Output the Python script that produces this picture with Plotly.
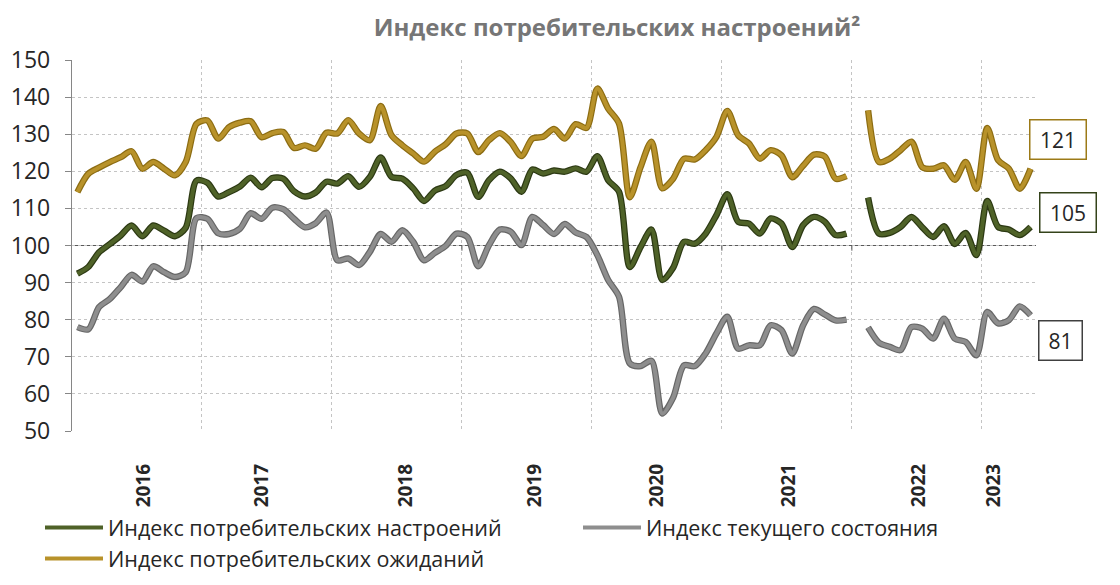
import plotly.graph_objects as go

# ---------------- data (monthly observations, None = missing month) ----------------
ics = [92.4, 94.2, 98.2, 100.4, 102.7, 105.4, 102.5, 105.4, 104.0, 102.5, 104.8, 117.5,
       116.9, 113.2, 114.4, 115.9, 118.3, 115.7, 118.2, 118.0, 114.6, 113.2, 114.3, 117.2,
       116.7, 118.7, 115.8, 118.5, 123.7, 118.5, 118.0, 115.4, 112.0, 114.8, 116.0, 119.0,
       119.6, 113.1, 117.6, 119.9, 118.1, 114.5, 120.5, 119.4, 120.2, 119.9, 120.8, 119.9,
       124.1, 117.6, 114.5, 94.2, 99.6, 104.3, 90.7, 94.0, 101.0, 100.5, 103.2, 108.2,
       113.8, 106.4, 105.9, 103.2, 107.3, 105.9, 99.6, 105.5, 107.7, 106.4, 102.8, 103.2,
       None, 112.9, 103.2, 103.4, 105.0, 107.7, 104.9, 102.3, 105.2, 100.4, 103.4, 97.4,
       112.0, 105.0, 104.3, 102.8, 105.0]

current = [78.0, 77.4, 83.4, 85.6, 88.8, 92.1, 90.3, 94.4, 92.8, 91.5, 92.8, 107.4,
           107.2, 103.3, 103.1, 104.5, 108.7, 107.2, 110.2, 109.8, 107.2, 104.9, 106.0, 108.9,
           96.0, 96.5, 94.7, 98.3, 103.1, 101.0, 104.1, 101.0, 96.0, 98.0, 99.9, 103.2,
           102.3, 94.4, 100.1, 104.3, 103.7, 100.1, 107.7, 105.5, 103.1, 105.8, 103.5, 102.3,
           97.4, 90.7, 86.2, 68.2, 67.5, 68.9, 54.7, 59.0, 67.7, 67.5, 70.9, 76.3,
           80.8, 72.2, 73.1, 73.1, 78.5, 77.2, 70.9, 78.5, 82.9, 81.4, 79.8, 80.0,
           None, 77.9, 73.8, 72.7, 71.8, 78.0, 77.6, 74.9, 80.3, 74.9, 74.0, 70.4,
           82.1, 79.0, 79.9, 83.6, 81.2]

expect = [114.4, 119.3, 121.0, 122.5, 123.8, 125.4, 120.7, 122.5, 120.7, 118.9, 122.5, 132.8,
          133.7, 128.8, 131.9, 133.1, 133.5, 129.2, 130.3, 130.6, 126.3, 127.0, 126.1, 130.4,
          130.2, 133.8, 130.2, 128.4, 137.6, 129.7, 127.0, 124.8, 122.6, 125.3, 127.3, 130.2,
          130.2, 125.2, 128.4, 130.3, 127.9, 124.1, 128.8, 129.3, 131.4, 128.8, 132.7, 131.7,
          142.3, 136.9, 132.9, 113.0, 121.2, 128.0, 115.4, 118.0, 123.4, 123.2, 125.7, 129.3,
          136.3, 129.7, 127.5, 123.4, 125.7, 124.3, 118.4, 121.5, 124.5, 124.0, 118.0, 118.7,
          None, 136.4, 122.5, 123.4, 125.7, 128.0, 121.1, 120.7, 121.6, 117.7, 122.5, 115.3,
          131.7, 123.0, 120.7, 115.3, 120.7]

years = ["2016", "2017", "2018", "2019", "2020", "2021", "2022", "2023"]
year_label_pos = [6.1, 17.0, 30.3, 42.2, 53.5, 65.7, 77.7, 84.6]

names = ["Индекс потребительских настроений",
         "Индекс текущего состояния",
         "Индекс потребительских ожиданий"]

# ---------------- styling ----------------
FONT = "Open Sans"
OFF = 8                      # default page margin of the html body
W, H = 1120 - OFF, 585 - OFF
ML, MR, MT, MB = 64, 84, 52, 154
PW = W - ML - MR

series = [
    # name, values, colour, edge colour, legend id
    (names[0], ics, "#4f6228", "#2c3913", "legend"),
    (names[1], current, "#8e8e8e", "#676767", "legend2"),
    (names[2], expect, "#b8922a", "#8c6c12", "legend"),
]

x = list(range(len(ics)))
fig = go.Figure()

for name, vals, col, edge, lg in series:
    fig.add_trace(go.Scatter(x=x, y=vals, mode="lines", showlegend=False,
                             hoverinfo="skip", connectgaps=False,
                             line=dict(color=edge, width=6.4, shape="spline", smoothing=0.8)))
    fig.add_trace(go.Scatter(x=x, y=vals, mode="lines", name=name, legend=lg,
                             connectgaps=False,
                             line=dict(color=col, width=4.0, shape="spline", smoothing=0.8)))

n = len(ics)
shapes = [dict(type="line", xref="paper", yref="y", x0=0, x1=1, y0=100, y1=100,
               line=dict(color="#595959", width=1.2), layer="between")]
for k in range(1, (n // 12) + 1):
    xv = -0.5 + 12 * k
    if xv < n - 0.5:
        shapes.append(dict(type="line", xref="x", yref="y", x0=xv, x1=xv, y0=100, y1=98.6,
                           line=dict(color="#595959", width=1), layer="between"))


def win_x_to_paper(px):
    return (px - OFF - ML) / PW


# end-value boxes (centre window-pixel x, centre value y)
boxes = [
    (expect[-1], 1058, 128.7, "#9c7a17"),
    (ics[-1], 1068, 109.0, "#34431a"),
    (current[-1], 1060, 74.3, "#404040"),
]
annotations = []
for v, cx, cy, bc in boxes:
    txt = f"{round(v)}"
    annotations.append(dict(text=txt, xref="paper", yref="y", x=win_x_to_paper(cx), y=cy,
                            showarrow=False, font=dict(family=FONT, size=21, color="#262626"),
                            bordercolor=bc, borderwidth=1.5, borderpad=1,
                            width=13 * len(txt) + 14, height=36, bgcolor="white",
                            xanchor="center", yanchor="middle"))

leg_common = dict(orientation="v", xref="container", yref="container",
                  xanchor="left", yanchor="top", itemwidth=58, tracegroupgap=0,
                  font=dict(family=FONT, size=21.5, color="#262626"),
                  bgcolor="rgba(0,0,0,0)")

fig.update_layout(
    width=W, height=H,
    margin=dict(l=ML, r=MR, t=MT, b=MB, autoexpand=False),
    paper_bgcolor="white", plot_bgcolor="white",
    font=dict(family=FONT, color="#262626"),
    title=dict(text="<b>Индекс потребительских настроений²</b>",
               x=(617 - OFF) / W, xanchor="center", xref="container",
               y=1 - (28 - OFF) / H, yanchor="middle", yref="container",
               font=dict(family=FONT, size=24, color="#767676")),
    xaxis=dict(range=[-0.5, n - 0.5], tickmode="array", tickvals=year_label_pos,
               ticktext=years, tickangle=-90, showgrid=False, zeroline=False,
               showline=False, ticks="", ticklabelstandoff=28, automargin=False,
               tickfont=dict(family=FONT, size=19, color="#262626", weight="bold"),
               minor=dict(tick0=-0.5, dtick=12, showgrid=True, gridcolor="#c4c4c4",
                          griddash="dot", gridwidth=1, ticks="")),
    yaxis=dict(range=[50, 150], dtick=10, tick0=50, showgrid=True, gridcolor="#c4c4c4",
               griddash="dot", gridwidth=1, zeroline=False, showline=True, automargin=False,
               linecolor="#868686", linewidth=1.3, ticks="outside", ticklen=6,
               ticklabelstandoff=10,
               tickcolor="#868686", tickfont=dict(family=FONT, size=23, color="#262626")),
    legend=dict(x=(40 - OFF) / W, y=1 - (507 - OFF) / H, **leg_common),
    legend2=dict(x=(578 - OFF) / W, y=1 - (507 - OFF) / H, **leg_common),
    shapes=shapes,
    annotations=annotations,
    showlegend=True,
)

fig.write_html("out.html")
